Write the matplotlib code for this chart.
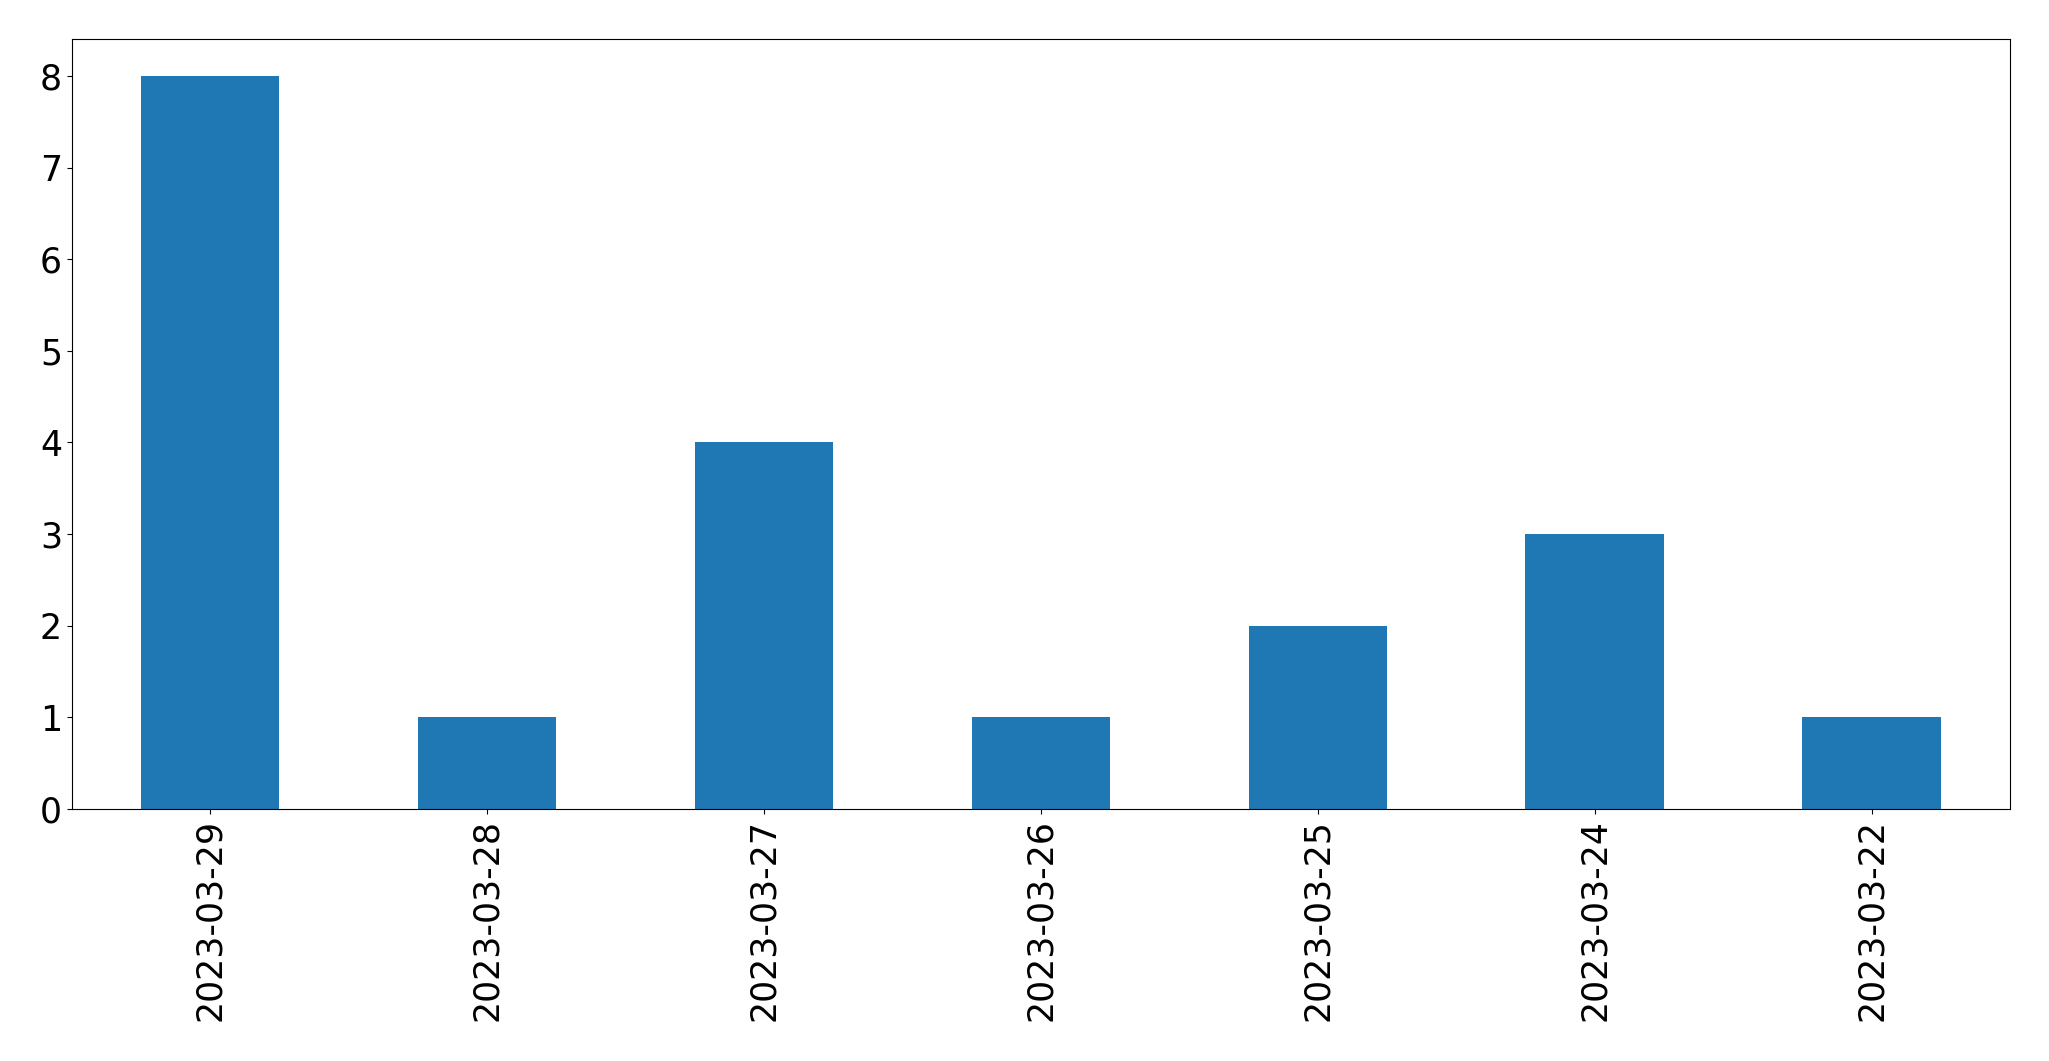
import matplotlib
matplotlib.use("Agg")
import matplotlib.pyplot as plt

dates = ["2023-03-29", "2023-03-28", "2023-03-27", "2023-03-26",
         "2023-03-25", "2023-03-24", "2023-03-22"]
counts = [8, 1, 4, 1, 2, 3, 1]

fig, ax = plt.subplots(figsize=(20.49, 10.61), dpi=100)
x = range(len(dates))
ax.bar(x, counts, width=0.5, color="#1f77b4")
ax.set_xticks(list(x))
ax.set_xticklabels(dates, rotation=90)
ax.set_xlim(-0.5, len(dates) - 0.5)
ax.set_ylim(0, 8.4)
ax.tick_params(labelsize=25)
plt.subplots_adjust(left=0.035, right=0.981, top=0.963, bottom=0.2375)
plt.savefig("out.png")
